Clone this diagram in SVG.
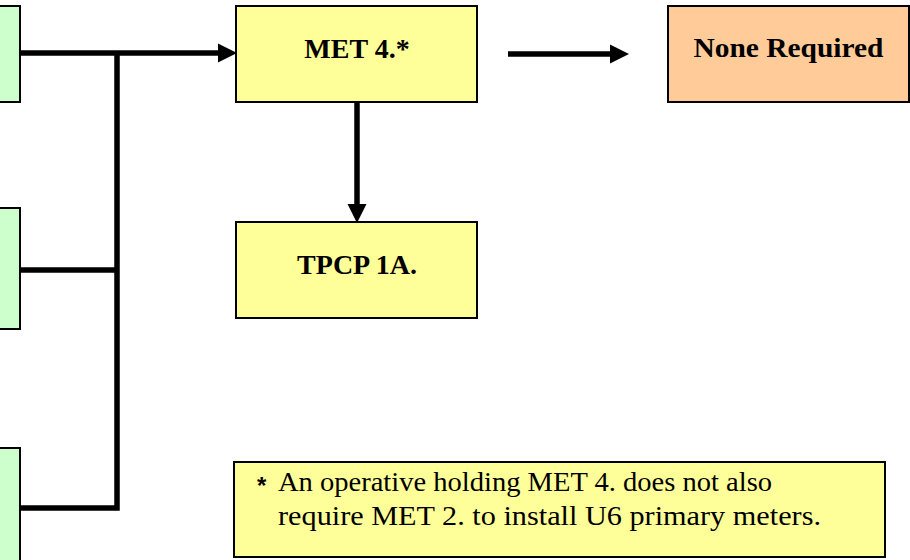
<svg xmlns="http://www.w3.org/2000/svg" width="910" height="560" viewBox="0 0 910 560">
<style>
.box{stroke:#000;stroke-width:2}
.green{fill:#CCFFCC}
.yellow{fill:#FFFF99}
.peach{fill:#FFCC99}
.lbl{font-family:"Liberation Serif","Times New Roman",serif;font-weight:bold;font-size:28px;fill:#000;text-anchor:middle}
.note{font-family:"Liberation Serif","Times New Roman",serif;font-size:28px;fill:#000}
.ast{font-family:"Liberation Sans",Arial,sans-serif;font-weight:bold;font-size:24px;fill:#000}
.wire{fill:none;stroke:#000;stroke-width:5.5;stroke-linejoin:miter}
</style>
<defs>
<marker id="ah" markerUnits="userSpaceOnUse" markerWidth="19" markerHeight="19" refX="0" refY="9.5" orient="auto" overflow="visible">
<path d="M0,0 L19,9.5 L0,19 Z" fill="#000"/>
</marker>
</defs>
<rect width="910" height="560" fill="#fff"/>
<g id="green-top"><rect class="box green" x="-10" y="6" width="30" height="96"/></g>
<g id="green-mid"><rect class="box green" x="-10" y="208" width="30" height="121"/></g>
<g id="green-bot"><rect class="box green" x="-10" y="448" width="30" height="130"/></g>
<g id="met4"><rect class="box yellow" x="236" y="6" width="241" height="96"/><text class="lbl" x="357" y="58">MET 4.*</text></g>
<g id="none"><rect class="box peach" x="668" y="6" width="241" height="96"/><text class="lbl" x="788.5" y="57" textLength="190" lengthAdjust="spacingAndGlyphs">None Required</text></g>
<g id="tpcp"><rect class="box yellow" x="236" y="222" width="241" height="96"/><text class="lbl" x="357" y="274">TPCP 1A.</text></g>
<g id="footnote"><rect class="box yellow" x="234" y="462" width="651" height="95"/>
<text class="ast" x="257" y="494">*</text>
<text class="note" x="278" y="491" textLength="494" lengthAdjust="spacingAndGlyphs">An operative holding MET 4. does not also</text>
<text class="note" x="278" y="525" textLength="543" lengthAdjust="spacingAndGlyphs">require MET 2. to install U6 primary meters.</text></g>
<g id="connectors">
<path class="wire" d="M21,53 H218" marker-end="url(#ah)"/>
<path class="wire" d="M21,508 H117 V53"/>
<path class="wire" d="M21,270 H117"/>
<path class="wire" d="M508,54 H610" marker-end="url(#ah)"/>
<path class="wire" d="M357,103 V204" marker-end="url(#ah)"/>
</g>
</svg>
